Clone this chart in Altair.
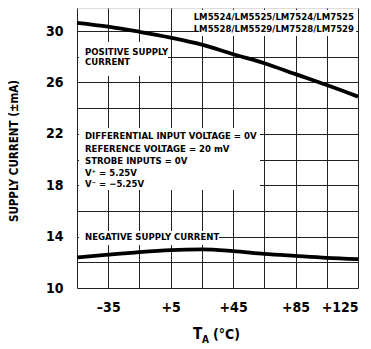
import altair as alt
import pandas as pd

# ---- data ----
temps = [-55, -35, -15, 5, 25, 45, 65, 85, 105, 125]
positive_ma = [30.65, 30.35, 29.95, 29.5, 28.95, 28.2, 27.5, 26.65, 25.8, 24.9]
negative_ma = [12.38, 12.6, 12.8, 12.95, 13.0, 12.87, 12.66, 12.5, 12.35, 12.25]

x_grid = [-55, -35, -15, 5, 25, 45, 65, 85, 105, 125]
y_grid = [10, 12, 14, 16, 18, 20, 22, 24, 26, 28, 30]

part_lines = ["LM5524/LM5525/LM7524/LM7525", "LM5528/LM5529/LM7528/LM7529"]
pos_lines = ["POSITIVE SUPPLY", "CURRENT"]
cond_lines = [
    "DIFFERENTIAL INPUT VOLTAGE = 0V",
    "REFERENCE VOLTAGE = 20 mV",
    "STROBE INPUTS = 0V",
    "V\u207a = 5.25V",
    "V\u207b = \u22125.25V",
]
neg_label = "NEGATIVE SUPPLY CURRENT"
y_title = "SUPPLY CURRENT (\u00b1mA)"

FONT = "DejaVu Sans Condensed, DejaVu Sans"
W, H = 281, 280

df = pd.DataFrame({
    "T": temps * 2,
    "I": positive_ma + negative_ma,
    "series": ["positive"] * len(temps) + ["negative"] * len(temps),
})

xs = alt.Scale(domain=[-55, 125], nice=False, zero=False)
ys = alt.Scale(domain=[10, 31.8], nice=False, zero=False)

base = alt.Chart(df)

lines = base.mark_line(color="black", strokeWidth=3.8, interpolate="monotone").encode(
    x=alt.X("T:Q", scale=xs, axis=alt.Axis(
        values=x_grid, title=None, grid=True, ticks=False, domain=False,
        labelExpr="(datum.value + 35) % 40 == 0 ? (datum.value > 0 ? '+' + datum.value : '\u2013' + abs(datum.value)) : ''",
        labelFont=FONT, labelFontSize=14, labelFontWeight="bold", labelColor="black",
        labelPadding=12, gridColor="#222", gridWidth=1)),
    y=alt.Y("I:Q", scale=ys, axis=alt.Axis(
        values=y_grid, title=None, grid=True, ticks=False, domain=False,
        labelExpr="(datum.value - 10) % 4 == 0 ? datum.label : ''",
        labelFont=FONT, labelFontSize=14, labelFontWeight="bold", labelColor="black",
        labelPadding=14, gridColor="#222", gridWidth=1)),
    detail="series:N",
)

one = pd.DataFrame({"k": [0]})

def box(x1, x2, y1, y2):
    return alt.Chart(one).mark_rect(fill="white").encode(
        x=alt.value(x1), x2=alt.value(x2), y=alt.value(y1), y2=alt.value(y2))

boxes = [
    box(120, 279, 2, 28),
    box(2, 91, 34, 68),
    box(2, 183, 120, 182),
    box(2, 142, 223, 237),
]

def txt(s, x, y, size=9.5, align="left"):
    return alt.Chart(one).mark_text(
        text=s, font=FONT, fontSize=size, fontWeight="bold", color="black",
        align=align, baseline="alphabetic").encode(x=alt.value(x), y=alt.value(y))

texts = []
texts.append(txt(part_lines[0], 277, 12, align="right"))
texts.append(txt(part_lines[1], 277, 24, align="right"))
texts.append(txt(pos_lines[0], 8, 47))
texts.append(txt(pos_lines[1], 8, 57))
for i, s in enumerate(cond_lines):
    texts.append(txt(s, 8, [130.5, 143.5, 156, 167.5, 179][i]))
texts.append(txt(neg_label, 8, 232))

# axis titles
texts.append(alt.Chart(one).mark_text(
    text=y_title, font=FONT, fontSize=11.5, fontWeight="bold", color="black",
    angle=270, align="center", baseline="middle").encode(x=alt.value(-62), y=alt.value(143)))
texts.append(txt("T", 116, 331, size=15, align="left"))
texts.append(txt("A", 125, 335, size=10, align="left"))
texts.append(txt("(\u00b0C)", 136, 331, size=14, align="left"))

chart = alt.layer(*boxes, lines, *texts).properties(
    width=W, height=H,
    autosize=alt.AutoSizeParams(type="none"),
    padding={"left": 69, "top": 0, "right": 5, "bottom": 60},
).configure_view(stroke="black", strokeWidth=2.5).configure(background="white")

chart.save("out.html", embed_options={"renderer": "svg", "actions": False})
